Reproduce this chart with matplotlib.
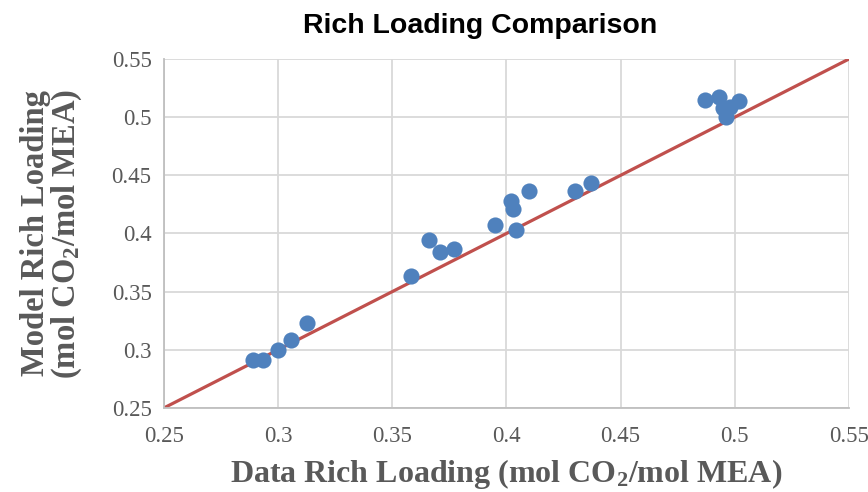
import numpy as np
import matplotlib
matplotlib.use('Agg')
import matplotlib.pyplot as plt

data_loading = [0.289, 0.2935, 0.300, 0.3055, 0.3125, 0.358, 0.366, 0.371, 0.377,
                0.395, 0.402, 0.403, 0.404, 0.410, 0.430, 0.437,
                0.487, 0.493, 0.502, 0.495, 0.498, 0.496]
model_loading = [0.291, 0.291, 0.300, 0.308, 0.3227, 0.3634, 0.394, 0.3838, 0.3864,
                 0.4075, 0.428, 0.421, 0.4027, 0.4365, 0.4365, 0.4436,
                 0.515, 0.517, 0.514, 0.508, 0.509, 0.500]
parity_x = [0.25, 0.55]
parity_y = [0.25, 0.55]
ticks = [0.25, 0.3, 0.35, 0.4, 0.45, 0.5, 0.55]
tick_labels = ['0.25', '0.3', '0.35', '0.4', '0.45', '0.5', '0.55']

plt.rcParams['mathtext.default'] = 'regular'
gray = '#595959'

fig = plt.figure(figsize=(8.68, 4.92), dpi=100)
ax = fig.add_axes([0.189, 0.171, 0.789, 0.709])

ax.plot(parity_x, parity_y, color='#c0504d', lw=2.3, zorder=2)
ax.scatter(data_loading, model_loading, s=135, color='#4f81bd', zorder=3, linewidths=0)

ax.set_xlim(0.25, 0.55)
ax.set_ylim(0.25, 0.55)
ax.set_xticks(ticks)
ax.set_xticklabels(tick_labels)
ax.set_yticks(ticks)
ax.set_yticklabels(tick_labels)
ax.grid(True, color='#d9d9d9', lw=1.3)
ax.set_axisbelow(True)
ax.tick_params(length=0, labelsize=16.5, labelcolor=gray)
ax.tick_params(axis='x', pad=13)
ax.tick_params(axis='y', pad=9)
for lab in ax.get_xticklabels() + ax.get_yticklabels():
    lab.set_family('Liberation Serif')
for s in ['top', 'right']:
    ax.spines[s].set_visible(False)
for s in ['left', 'bottom']:
    ax.spines[s].set_color('#bfbfbf')
    ax.spines[s].set_linewidth(1.3)

ax.set_xlabel('Data Rich Loading (mol CO$_\\mathregular{2}$/mol MEA)', family='Liberation Serif',
              fontsize=23, fontweight='bold', color=gray, labelpad=7)
ax.set_ylabel('Model Rich Loading\n(mol CO$_\\mathregular{2}$/mol MEA)', family='Liberation Serif',
              fontsize=23.5, fontweight='bold', color=gray, labelpad=20, linespacing=0.95)
ax.set_title('Rich Loading Comparison', family='Liberation Sans', fontsize=20.5,
             fontweight='bold', color='black', pad=19, x=0.461)

fig.savefig('out.png', dpi=100)
